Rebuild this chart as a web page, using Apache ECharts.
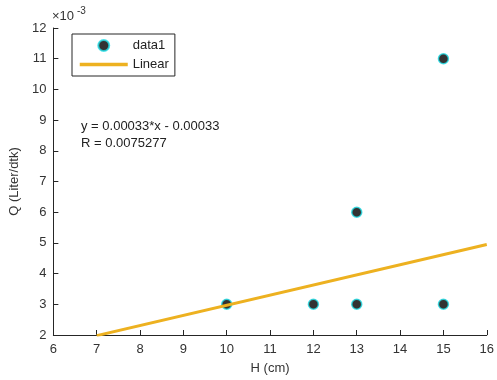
<!DOCTYPE html>
<html>
<head>
<meta charset="utf-8">
<script src="https://cdn.jsdelivr.net/npm/echarts@6/dist/echarts.min.js"></script>
<style>
  html, body { margin: 0; padding: 0; background: #fff; }
  #chart { width: 497px; height: 380px; }
</style>
</head>
<body>
<div id="chart"></div>
<script>
// measured points (H in cm, Q in Liter/dtk)
var dataX = [10, 12, 13, 13, 15, 15];
var dataY = [0.003, 0.003, 0.003, 0.006, 0.003, 0.011];
// linear fit line endpoints
var fitX = [7, 16];
var fitY = [0.00198, 0.00495];
var fitText = ['y = 0.00033*x - 0.00033', 'R = 0.0075277'];

var font = 'Liberation Sans, Arial, sans-serif';
var chart = echarts.init(document.getElementById('chart'));

var pts = dataX.map(function (x, i) { return [x, dataY[i]]; });
var fit = fitX.map(function (x, i) { return [x, fitY[i]]; });

chart.setOption({
  animation: false,
  textStyle: { fontFamily: font },
  grid: { left: 49, right: 7, top: 28, bottom: 42 },
  xAxis: {
    type: 'value',
    min: 6, max: 16, interval: 1,
    name: 'H (cm)',
    nameLocation: 'middle',
    nameGap: 27,
    nameTextStyle: { color: '#333', fontSize: 13, fontFamily: font },
    axisLine: { lineStyle: { color: '#262626', width: 1 } },
    axisTick: { inside: true, length: 5, lineStyle: { color: '#262626' } },
    axisLabel: { color: '#333', fontSize: 13, margin: 8, fontFamily: font },
    splitLine: { show: false }
  },
  yAxis: {
    type: 'value',
    min: 0.002, max: 0.012, interval: 0.001,
    name: 'Q (Liter/dtk)',
    nameLocation: 'middle',
    nameGap: 32,
    nameTextStyle: { color: '#333', fontSize: 13, fontFamily: font },
    axisLine: { show: true, lineStyle: { color: '#262626', width: 1 } },
    axisTick: { show: true, inside: true, length: 5, lineStyle: { color: '#262626' } },
    axisLabel: {
      color: '#333', fontSize: 13, margin: 7, fontFamily: font,
      formatter: function (v) { return String(Math.round(v * 1000)); }
    },
    splitLine: { show: false }
  },
  legend: {
    left: 72, top: 34,
    orient: 'vertical',
    itemGap: 6,
    itemWidth: 48,
    itemHeight: 11,
    padding: [5, 6, 5, 6],
    borderColor: '#262626',
    borderWidth: 1,
    borderRadius: 0,
    backgroundColor: '#fff',
    textStyle: { color: '#222', fontSize: 13, fontFamily: font },
    data: [
      { name: 'data1', icon: 'circle' },
      { name: 'Linear', itemStyle: { opacity: 0 }, lineStyle: { width: 3.5 } }
    ]
  },
  graphic: [
    {
      type: 'text', left: 52, top: 10,
      style: { text: '×10', fill: '#333', font: '13px ' + font }
    },
    {
      type: 'text', left: 77, top: 6,
      style: { text: '-3', fill: '#333', font: '10px ' + font }
    },
    {
      type: 'text', left: 81, top: 118,
      style: { text: fitText.join('\n'), fill: '#222', font: '13px ' + font, lineHeight: 17 }
    }
  ],
  series: [
    {
      name: 'data1',
      type: 'scatter',
      data: pts,
      symbol: 'circle',
      symbolSize: 10,
      itemStyle: { color: '#000', borderColor: '#22dde6', borderWidth: 1.5 },
      z: 3
    },
    {
      name: 'Linear',
      type: 'line',
      data: fit,
      showSymbol: false,
      symbol: 'none',
      lineStyle: { color: '#EDB120', width: 3 },
      itemStyle: { color: '#EDB120' },
      z: 4
    }
  ]
});
</script>
</body>
</html>
